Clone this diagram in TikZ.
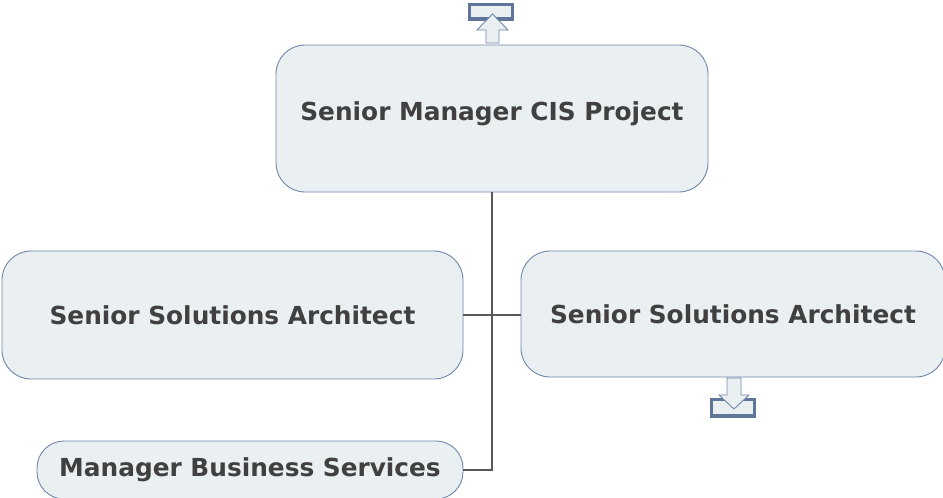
\documentclass[tikz,border=0pt]{standalone}
\usepackage{fontspec}
\setmainfont{DejaVu Sans}
\usetikzlibrary{positioning}

\definecolor{boxfill}{HTML}{EAEFF2}
\definecolor{boxline}{HTML}{6F87AA}
\definecolor{boxtext}{HTML}{404040}
\definecolor{iconline}{HTML}{5F7698}
\definecolor{linkgray}{HTML}{585858}

\tikzset{
  role/.style={draw=boxline, fill=boxfill, line width=0.9pt, rounded corners=29pt,
    inner sep=0pt, text=boxtext, font=\bfseries\fontsize{24.8}{29}\selectfont},
  link/.style={draw=linkgray, line width=1.2pt},
  icon/.style={draw=iconline, fill=boxfill, line width=3.5pt},
  iconarrow/.style={draw=boxline, fill=boxfill, line width=0.9pt}
}

\begin{document}
\begin{tikzpicture}[x=1pt,y=-1pt]
    \useasboundingbox (0,0) rectangle (943,498);
    \node[role, minimum width=432pt, minimum height=147pt, text height=18pt, text depth=15pt] (cis) at (492,118.5) {Senior Manager CIS Project};
    \node[role, minimum width=461pt, minimum height=128pt] (ssaleft) at (232.5,315) {Senior Solutions Architect};
    \node[role, minimum width=424pt, minimum height=126pt] (ssaright) at (733,314) {Senior Solutions Architect};
    \node[role, minimum width=426pt, minimum height=58pt, rounded corners=27pt] (mbs) at (250,470) {Manager Business Services};
    \draw[link] (cis.south) |- (mbs.east);
    \draw[link] (ssaleft.east) -- (ssaright.west |- ssaleft.east);
    \draw[icon] (469.5,4.5) rectangle (512.5,19);
    \draw[iconarrow] (486,43) -- (486,30) -- (477,30) -- (492.5,14) -- (508,30) -- (499,30) -- (499,43) -- cycle;
    \draw[icon] (711.5,399.5) rectangle (754.5,416);
    \draw[iconarrow] (727,378) -- (741,378) -- (741,395) -- (749,395) -- (734,409) -- (719,395) -- (727,395) -- cycle;
\end{tikzpicture}
\end{document}
